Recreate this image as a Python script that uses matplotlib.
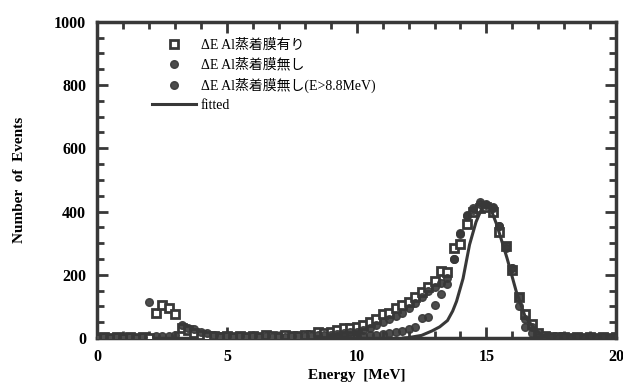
import numpy as np
import matplotlib.pyplot as plt
from matplotlib.ticker import MultipleLocator

plt.rcParams['font.family'] = ['Liberation Serif', 'Noto Sans CJK JP']

# ΔE Al蒸着膜有り (squares), 0.25 MeV bins
e_sq = np.arange(0, 20.01, 0.25)
n_sq = [0, 2, 0, 2, 0, 2, 0, 3, 0, 80, 105, 95, 75, 30, 25, 15,
        8, 5, 5, 3, 5, 3, 5, 2, 5, 3, 8, 5, 3, 8, 5, 5,
        10, 8, 20, 15, 20, 25, 30, 30, 35, 40, 50, 60, 75, 80, 95, 105,
        115, 128, 145, 160, 180, 212, 210, 283, 298, 362, 400, 410, 415, 400,
        335, 290, 215, 130, 75, 45, 15, 5, 3, 2, 2, 0, 2, 0, 2, 0, 2, 0, 2]

# ΔE Al蒸着膜無し (circles)
e_c1 = np.arange(0, 20.01, 0.25)
n_c1 = [0, 2, 0, 2, 0, 2, 0, 3, 113, 5, 5, 5, 8, 41, 30, 28,
        20, 15, 10, 5, 5, 3, 5, 3, 5, 3, 5, 3, 5, 3, 5, 5,
        5, 5, 8, 10, 10, 12, 15, 18, 20, 25, 30, 40, 50, 60, 70, 80,
        95, 110, 130, 150, 160, 173, 190, 250, 333, 390, 410, 430, 425, 415,
        355, 285, 220, 130, 60, 35, 10, 3, 2, 0, 2, 0, 2, 0, 2, 0, 2, 0, 2]

# ΔE Al蒸着膜無し(E>8.8MeV) (circles)
e_c2 = np.arange(9.0, 20.01, 0.25)
n_c2 = [3, 5, 5, 5, 5, 5, 8, 8, 12, 16, 19, 22, 28, 35, 63, 66,
        104, 140, 170, 250, 330, 385, 405, 425, 420, 410, 355, 290,
        220, 100, 35, 15, 3, 0, 2, 0, 2, 0, 2, 0, 2, 0, 2, 0, 2]

# fitted
fit_e = [11.8, 12.0, 12.5, 12.9, 13.2, 13.5, 13.7, 13.85, 14.1, 14.35, 14.6,
         14.85, 15.0, 15.15, 15.4, 15.8, 16.15, 16.5, 16.9, 17.3]
fit_n = [0, 1, 8, 22, 35, 55, 85, 116, 188, 295, 367,
         415, 422, 412, 358, 251, 147, 66, 25, 0]

col = '#383838'

fig = plt.figure(figsize=(6.23, 3.84), dpi=100)
ax = fig.add_axes([0.156, 0.12, 0.833, 0.823])

ax.plot(e_sq, n_sq, 's', ms=6, mfc='white', mec=col, mew=2.0,
        label='ΔE Al蒸着膜有り', zorder=3)
ax.plot(e_c1, n_c1, 'o', ms=5.5, mfc=col, mec=col, alpha=0.9,
        label='ΔE Al蒸着膜無し', zorder=4)
ax.plot(e_c2, n_c2, 'o', ms=5.5, mfc=col, mec=col, alpha=0.9,
        label='ΔE Al蒸着膜無し(E>8.8MeV)', zorder=4)
ax.plot(fit_e, fit_n, '-', color=col, lw=2.2, label='fitted', zorder=5)

ax.set_xlim(0, 20)
ax.set_ylim(0, 1000)
ax.xaxis.set_major_locator(MultipleLocator(5))
ax.xaxis.set_minor_locator(MultipleLocator(1))
ax.yaxis.set_major_locator(MultipleLocator(200))
ax.yaxis.set_minor_locator(MultipleLocator(50))
ax.tick_params(which='both', direction='in', top=True, right=True, width=2, color=col)
ax.tick_params(which='major', length=8, labelsize=11.5, pad=8)
ax.tick_params(which='minor', length=5)
for lab in ax.get_xticklabels() + ax.get_yticklabels():
    lab.set_fontweight('bold')
for sp in ax.spines.values():
    sp.set_linewidth(2.5)
    sp.set_color(col)

ax.set_xlabel('Energy  [MeV]', fontsize=11, fontweight='bold', labelpad=3)
ax.set_ylabel('Number  of  Events', fontsize=11, fontweight='bold', labelpad=20)

ax.legend(loc='upper left', bbox_to_anchor=(0.095, 0.965), frameon=False,
          fontsize=10, handlelength=3.2, handletextpad=0.3, labelspacing=0.45,
          borderaxespad=0)

fig.savefig('out.png', dpi=100)
